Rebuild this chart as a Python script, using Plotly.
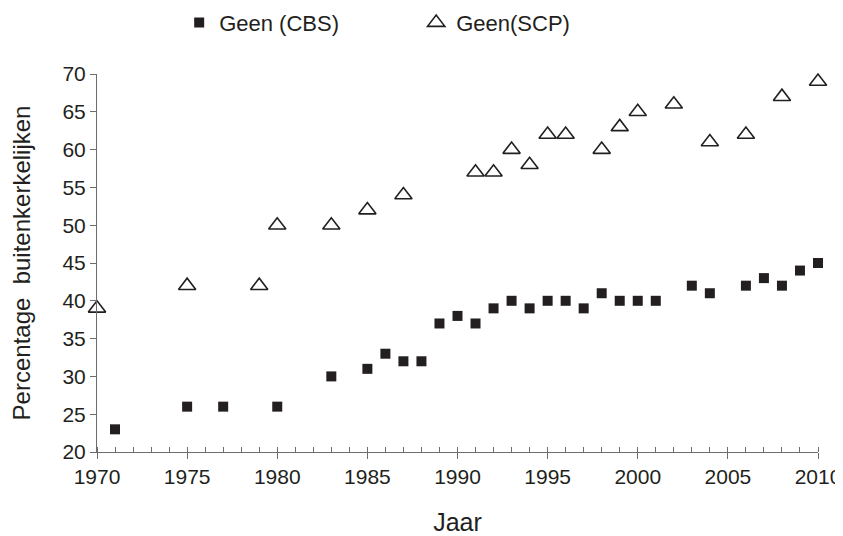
import plotly.graph_objects as go

cbs_years = [1971, 1975, 1977, 1980, 1983, 1985, 1986, 1987, 1988, 1989, 1990, 1991, 1992, 1993,
             1994, 1995, 1996, 1997, 1998, 1999, 2000, 2001, 2003, 2004, 2006, 2007, 2008, 2009, 2010]
cbs_values = [23, 26, 26, 26, 30, 31, 33, 32, 32, 37, 38, 37, 39, 40,
              39, 40, 40, 39, 41, 40, 40, 40, 42, 41, 42, 43, 42, 44, 45]

scp_years = [1970, 1975, 1979, 1980, 1983, 1985, 1987, 1991, 1992, 1993, 1994, 1995, 1996,
             1998, 1999, 2000, 2002, 2004, 2006, 2008, 2010]
scp_values = [39, 42, 42, 50, 50, 52, 54, 57, 57, 60, 58, 62, 62,
              60, 63, 65, 66, 61, 62, 67, 69]

x_ticks = [1970, 1975, 1980, 1985, 1990, 1995, 2000, 2005, 2010]
y_ticks = [20, 25, 30, 35, 40, 45, 50, 55, 60, 65, 70]

ink = "#231f20"
axc = "#6d6d6d"
font = "Liberation Sans, Arial, sans-serif"

fig = go.Figure()
fig.add_trace(go.Scatter(
    x=cbs_years, y=cbs_values, mode="markers", name="Geen (CBS)",
    marker=dict(symbol="square", size=10, color=ink, line=dict(width=0)),
    cliponaxis=False,
))
fig.add_trace(go.Scatter(
    x=scp_years, y=scp_values, mode="markers", name="Geen(SCP)",
    marker=dict(symbol="triangle-up-open", size=15, color=ink, line=dict(width=1.6, color=ink)),
    cliponaxis=False,
))

# The page has an 8px body margin, so the figure is sized to fit the window.
fig.update_layout(
    width=835, height=528,
    margin=dict(l=89, r=25, t=66, b=84, autoexpand=False),
    paper_bgcolor="white", plot_bgcolor="white",
    font=dict(family=font, color=ink, size=21),
    legend=dict(orientation="h", xref="container", yref="container",
                x=0.205, xanchor="left", y=0.972, yanchor="middle",
                entrywidth=192, entrywidthmode="pixels", font=dict(size=22),
                itemsizing="trace", tracegroupgap=0, bgcolor="rgba(0,0,0,0)"),
    showlegend=True,
)
fig.update_xaxes(
    range=[1970, 2010], tickvals=x_ticks, ticktext=[str(v) for v in x_ticks],
    showgrid=False, zeroline=False, showline=True, linecolor=axc, linewidth=1,
    ticks="outside", ticklen=6, tickcolor=axc, automargin=False,
    minor=dict(dtick=1, ticks="inside", ticklen=5, tickcolor=axc, showgrid=False),
    tickfont=dict(size=21),
    title=dict(text="Jaar", font=dict(size=25), standoff=26),
)
fig.update_yaxes(
    range=[20, 70], tickvals=y_ticks,
    showgrid=False, zeroline=False, showline=True, linecolor=axc, linewidth=1,
    ticks="outside", ticklen=6, tickcolor=axc, automargin=False,
    tickfont=dict(size=21),
    title=dict(text="Percentage  buitenkerkelijken", font=dict(size=24), standoff=33),
)

fig.write_html("out.html")
